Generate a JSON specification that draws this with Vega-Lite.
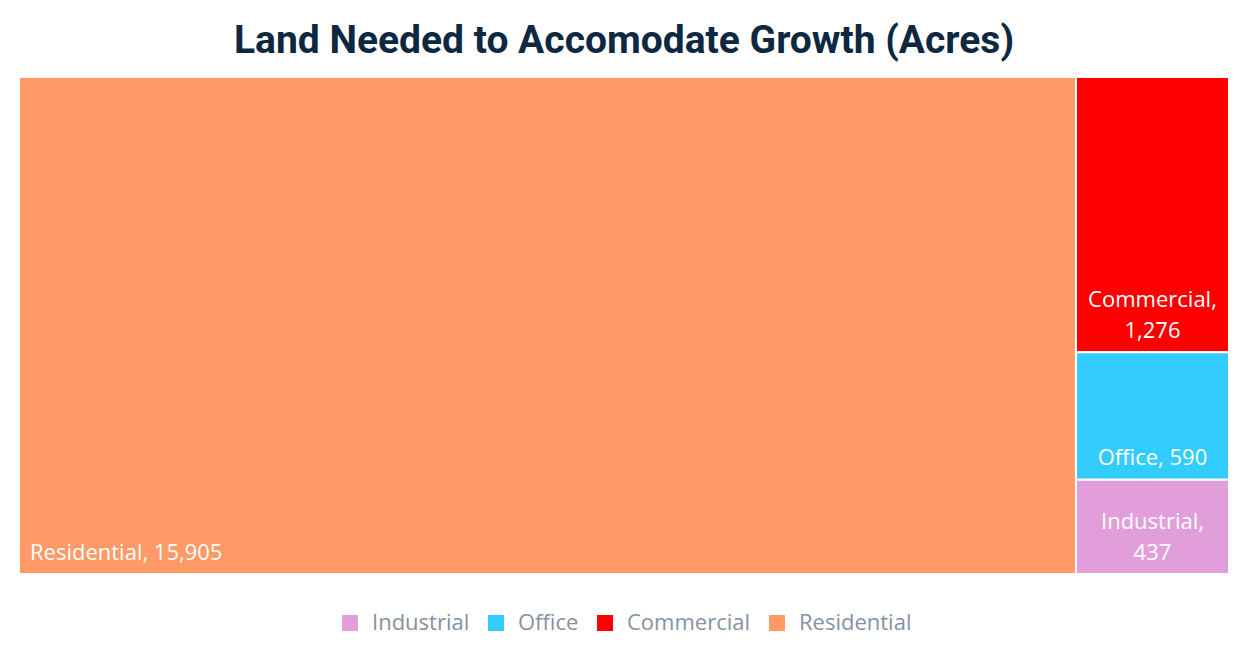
{
  "$schema": "https://vega.github.io/schema/vega-lite/v6.json",
  "width": 1210,
  "height": 497,
  "autosize": "none",
  "padding": {"left": 19, "top": 77, "right": 16, "bottom": 94},
  "background": "white",
  "title": {
    "text": "Land Needed to Accomodate Growth (Acres)",
    "font": "Roboto",
    "fontSize": 39,
    "fontWeight": "bold",
    "color": "#0e2841",
    "anchor": "middle",
    "offset": 15
  },
  "config": {"view": {"stroke": null}},
  "data": {
    "values": [
      {"name": "Residential", "group": "main", "value": 15905},
      {"name": "Commercial", "group": "side", "value": 1276},
      {"name": "Office", "group": "side", "value": 590},
      {"name": "Industrial", "group": "side", "value": 437}
    ]
  },
  "transform": [
    {"stack": "value", "groupby": [], "sort": [{"field": "group"}], "as": ["sx0", "sx1"]},
    {"joinaggregate": [{"op": "min", "field": "sx0", "as": "gx0"}, {"op": "max", "field": "sx1", "as": "gx1"}], "groupby": ["group"]},
    {"stack": "value", "groupby": ["group"], "sort": [{"field": "value", "order": "ascending"}], "offset": "normalize", "as": ["gy0", "gy1"]},
    {"calculate": "datum.group == 'side' && datum.name != 'Office' ? [datum.name + ',', format(datum.value, ',')] : datum.name + ', ' + format(datum.value, ',')", "as": "label"},
    {"calculate": "(datum.gx0 + datum.gx1) / 2", "as": "cx"}
  ],
  "layer": [
    {
      "mark": {"type": "rect", "stroke": "white", "strokeWidth": 2},
      "encoding": {
        "x": {"field": "gx0", "type": "quantitative", "scale": {"domain": [0, 18208], "nice": false, "zero": true}, "axis": null},
        "x2": {"field": "gx1"},
        "y": {"field": "gy0", "type": "quantitative", "scale": {"domain": [0, 1], "nice": false}, "axis": null},
        "y2": {"field": "gy1"},
        "color": {
          "field": "name",
          "type": "nominal",
          "scale": {
            "domain": ["Industrial", "Office", "Commercial", "Residential"],
            "range": ["#e19edb", "#33ccff", "#ff0000", "#ff9966"]
          },
          "legend": {
            "orient": "none",
            "legendX": 320,
            "legendY": 535,
            "direction": "horizontal",
            "title": null,
            "symbolType": "square",
            "symbolSize": 256,
            "symbolStrokeWidth": 0,
            "labelFontSize": 22,
            "labelFont": "Open Sans",
            "labelColor": "#8592a3",
            "columnPadding": 15,
            "labelOffset": 11
          }
        }
      }
    },
    {
      "transform": [{"filter": "datum.group == 'main'"}],
      "mark": {"type": "text", "align": "left", "baseline": "bottom", "dx": 11, "dy": -9, "color": "white", "font": "Open Sans", "fontSize": 22},
      "encoding": {
        "x": {"field": "gx0", "type": "quantitative"},
        "y": {"field": "gy0", "type": "quantitative"},
        "text": {"field": "label"}
      }
    },
    {
      "transform": [{"filter": "datum.group == 'side' && datum.name == 'Office'"}],
      "mark": {"type": "text", "align": "center", "baseline": "bottom", "dy": -10, "color": "white", "font": "Open Sans", "fontSize": 22},
      "encoding": {
        "x": {"field": "cx", "type": "quantitative"},
        "y": {"field": "gy0", "type": "quantitative"},
        "text": {"field": "label"}
      }
    },
    {
      "transform": [{"filter": "datum.group == 'side' && datum.name != 'Office'"}],
      "mark": {"type": "text", "align": "center", "baseline": "bottom", "dy": -40, "color": "white", "font": "Open Sans", "fontSize": 22, "lineHeight": 31},
      "encoding": {
        "x": {"field": "cx", "type": "quantitative"},
        "y": {"field": "gy0", "type": "quantitative"},
        "text": {"field": "label"}
      }
    }
  ]
}
